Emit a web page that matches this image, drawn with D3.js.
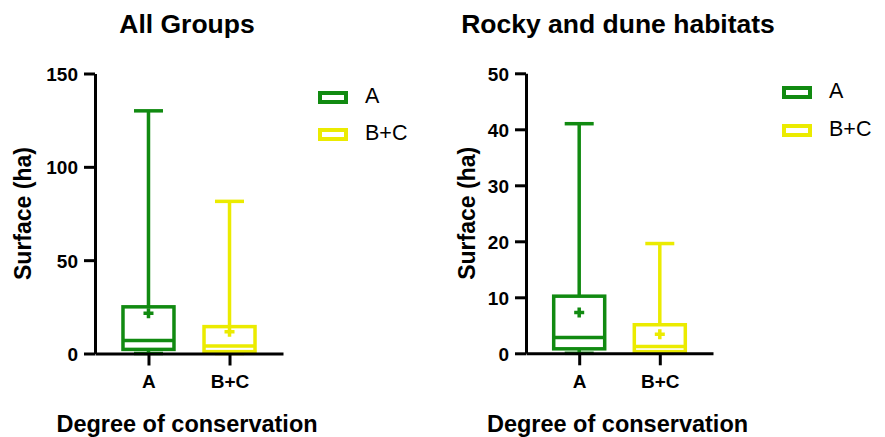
<!DOCTYPE html>
<html>
<head>
<meta charset="utf-8">
<script src="https://cdn.jsdelivr.net/npm/d3@7"></script>
<style>
  body { margin: 0; background: #fff; }
  svg text { font-family: "Liberation Sans", Arial, sans-serif; }
</style>
</head>
<body>
<div id="chart"></div>
<script>
// Categories and box stats
var groups = ["A", "B+C"];
var colors = ["#118a11", "#ebeb00"];

var allMin = [0, 0];
var allQ1 = [2.2, 1.0];
var allMedian = [7.0, 4.0];
var allQ3 = [25.0, 14.4];
var allMax = [130, 81.5];
var allMean = [21.5, 11.7];
var allTicks = [0, 50, 100, 150];

var rockyMin = [0, 0];
var rockyQ1 = [0.8, 0.3];
var rockyMedian = [2.8, 1.2];
var rockyQ3 = [10.2, 5.1];
var rockyMax = [41, 19.6];
var rockyMean = [7.3, 3.4];
var rockyTicks = [0, 10, 20, 30, 40, 50];

var svgWidth = 885;
var svgHeight = 437;

var svg = d3.select("#chart")
    .append("svg")
    .attr("width", svgWidth)
    .attr("height", svgHeight);

function drawPanel(opt) {
    var g = svg.append("g");

    var x = d3.scalePoint()
        .domain(groups)
        .range([opt.left, opt.right])
        .padding(0.66);
    var y = d3.scaleLinear()
        .domain([0, opt.ymax])
        .range([opt.bottom, opt.top]);

    var stats = groups.map(function (name, i) {
        return {
            name: name, color: colors[i],
            min: opt.min[i], q1: opt.q1[i], med: opt.median[i],
            q3: opt.q3[i], max: opt.max[i], mean: opt.mean[i]
        };
    });

    var boxW = 51, capW = 29, plus = 5;

    var boxes = g.selectAll("g.box")
        .data(stats)
        .enter()
        .append("g")
        .attr("class", "box")
        .attr("stroke", d => d.color)
        .attr("stroke-width", 3.5)
        .attr("fill", "none");

    // whiskers
    boxes.append("line")
        .attr("x1", d => x(d.name)).attr("x2", d => x(d.name))
        .attr("y1", d => y(d.max)).attr("y2", d => y(d.q3));
    boxes.append("line")
        .attr("x1", d => x(d.name)).attr("x2", d => x(d.name))
        .attr("y1", d => y(d.q1)).attr("y2", d => y(d.min));
    boxes.append("line")
        .attr("x1", d => x(d.name) - capW / 2).attr("x2", d => x(d.name) + capW / 2)
        .attr("y1", d => y(d.max)).attr("y2", d => y(d.max));
    boxes.append("line")
        .attr("x1", d => x(d.name) - capW / 2).attr("x2", d => x(d.name) + capW / 2)
        .attr("y1", d => y(d.min)).attr("y2", d => y(d.min));

    // box and median
    boxes.append("rect")
        .attr("x", d => x(d.name) - boxW / 2)
        .attr("width", boxW)
        .attr("y", d => y(d.q3))
        .attr("height", d => y(d.q1) - y(d.q3));
    boxes.append("line")
        .attr("x1", d => x(d.name) - boxW / 2).attr("x2", d => x(d.name) + boxW / 2)
        .attr("y1", d => y(d.med)).attr("y2", d => y(d.med));

    // mean marker
    boxes.append("path")
        .attr("stroke-width", 3.5)
        .attr("d", function (d) {
            var cx = x(d.name), cy = y(d.mean);
            return "M" + (cx - plus) + "," + cy + "H" + (cx + plus) +
                "M" + cx + "," + (cy - plus) + "V" + (cy + plus);
        });

    // axes
    var leftAxis = d3.axisLeft(y).tickValues(opt.ticks).tickSize(11).tickPadding(6).tickSizeOuter(0);
    var bottomAxis = d3.axisBottom(x).tickSize(12).tickPadding(10).tickSizeOuter(0);

    var ya = g.append("g")
        .attr("transform", `translate(${opt.left}, 0)`)
        .call(leftAxis);
    var xa = g.append("g")
        .attr("transform", `translate(0, ${opt.bottom})`)
        .call(bottomAxis);

    [ya, xa].forEach(function (a) {
        a.select(".domain").attr("stroke", "#000").attr("stroke-width", 3);
        a.selectAll(".tick line").attr("stroke", "#000").attr("stroke-width", 3);
        a.selectAll(".tick text")
            .attr("fill", "#000")
            .style("font-weight", "bold");
    });
    ya.selectAll(".tick text").style("font-size", "19px").attr("dy", "0.36em");
    xa.selectAll(".tick text").style("font-size", "19px").attr("dy", "0.68em");

    // titles
    g.append("text")
        .attr("x", opt.titleX)
        .attr("y", 33)
        .attr("text-anchor", "middle")
        .style("font-size", "26.5px")
        .style("font-weight", "bold")
        .text(opt.title);

    g.append("text")
        .attr("transform", `translate(${opt.labelX}, ${(opt.top + opt.bottom) / 2}) rotate(-90)`)
        .attr("text-anchor", "middle")
        .style("font-size", "23px")
        .style("font-weight", "bold")
        .text("Surface (ha)");

    g.append("text")
        .attr("x", (opt.left + opt.right) / 2 - 2)
        .attr("y", 432)
        .attr("text-anchor", "middle")
        .style("font-size", "23.5px")
        .style("font-weight", "bold")
        .text("Degree of conservation");

    // legend
    var legend = g.selectAll("g.legend")
        .data(stats)
        .enter()
        .append("g")
        .attr("class", "legend")
        .attr("transform", (d, i) => `translate(${opt.legX}, ${opt.legY + i * opt.legStep})`);
    legend.append("rect")
        .attr("x", 2).attr("y", 2)
        .attr("width", 26).attr("height", 9)
        .attr("fill", "none")
        .attr("stroke", d => d.color)
        .attr("stroke-width", 4);
    legend.append("text")
        .attr("x", 47)
        .attr("y", 12)
        .style("font-size", "21.5px")
        .text(d => d.name);
}

drawPanel({
    title: "All Groups", titleX: 187,
    left: 95, right: 283, top: 73.5, bottom: 353.5, ymax: 150,
    ticks: allTicks, labelX: 31,
    min: allMin, q1: allQ1, median: allMedian, q3: allQ3, max: allMax, mean: allMean,
    legX: 318, legY: 91, legStep: 37
});

drawPanel({
    title: "Rocky and dune habitats", titleX: 618,
    left: 526, right: 713, top: 73.3, bottom: 353.3, ymax: 50,
    ticks: rockyTicks, labelX: 475,
    min: rockyMin, q1: rockyQ1, median: rockyMedian, q3: rockyQ3, max: rockyMax, mean: rockyMean,
    legX: 782, legY: 86, legStep: 38
});
</script>
</body>
</html>
